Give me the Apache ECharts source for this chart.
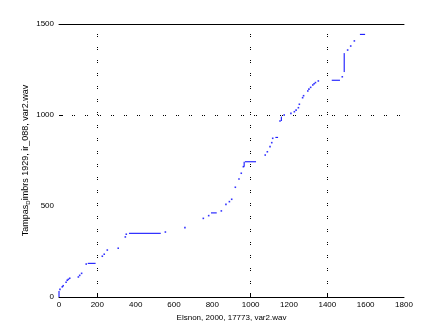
<!DOCTYPE html>
<html>
<head>
<meta charset="utf-8">
<script src="https://cdn.jsdelivr.net/npm/echarts@6/dist/echarts.min.js"></script>
<style>html,body{margin:0;padding:0;background:#fff}#c{width:447px;height:335px}</style>
</head>
<body>
<div id="c"></div>
<script>
// x tick labels
var xTicks = [0, 200, 400, 600, 800, 1000, 1200, 1400, 1600, 1800];
var yTicks = [0, 500, 1000, 1500];
// grid lines / marked ticks present in the reference
var xGrid = [200, 1000, 1400];
var yGrid = [1000];
var yMarkTicks = [1000, 1500];

// isolated dots
var dotsX = [5, 17, 22, 37, 43, 49, 56, 101, 108, 118, 142, 226, 236, 252, 309, 346, 351, 555, 657, 753, 781, 847, 871, 889, 901, 920, 939, 951, 962, 1076, 1087, 1101, 1110, 1115, 1153, 1175, 1210, 1228, 1237, 1249, 1254, 1271, 1276, 1298, 1304, 1313, 1324, 1331, 1338, 1353, 1478, 1506, 1522, 1541];
var dotsY = [42, 56, 62, 81, 92, 97, 103, 110, 119, 130, 181, 224, 235, 258, 268, 330, 345, 357, 381, 432, 447, 473, 509, 524, 537, 603, 648, 680, 716, 780, 798, 826, 848, 872, 967, 1000, 1009, 1018, 1027, 1040, 1059, 1095, 1106, 1132, 1142, 1152, 1165, 1172, 1178, 1187, 1210, 1357, 1379, 1407];

// continuous runs (flat steps and vertical jumps)
var segX1 = [0, 150, 365, 793, 966, 970, 1129, 1160, 1423, 1488, 1570];
var segY1 = [0, 185, 350, 462, 716, 743, 877, 967, 1191, 1236, 1443];
var segX2 = [0, 191, 531, 823, 966, 1028, 1143, 1160, 1466, 1488, 1597];
var segY2 = [33, 185, 350, 462, 743, 743, 877, 991, 1191, 1340, 1443];

var yTitle = 'Tampas';
var yTitleSub = 'D';
var yTitleRest = 'imbrs 1929, ir_088, var2.wav';
var xTitle = 'Elsnon, 2000, 17773, var2.wav';

var dots = dotsX.map(function (x, i) { return [x, dotsY[i]]; });
var segs = [];
segX1.forEach(function (x, i) {
  segs.push([x, segY1[i]]);
  segs.push([segX2[i], segY2[i]]);
  segs.push([null, null]);
});

var FONT = 'Liberation Sans';
var gridLineStyle = { color: '#000', width: 1, type: [1, 1, 1, 10] };
var plain = function (v) { return String(v); };

var chart = echarts.init(document.getElementById('c'), null, { renderer: 'canvas' });
chart.setOption({
  animation: false,
  backgroundColor: '#fff',
  grid: { left: 59, right: 43, top: 24, bottom: 38, containLabel: false },
  xAxis: [{
    type: 'value', min: 0, max: 1800, interval: 200,
    name: xTitle, nameLocation: 'middle', nameGap: 16,
    nameTextStyle: { fontFamily: FONT, fontSize: 8, color: '#000' },
    axisLine: { show: true, onZero: false, lineStyle: { color: '#000', width: 1 } },
    axisTick: { show: true, inside: true, length: 4, customValues: xGrid, lineStyle: { color: '#000' } },
    axisLabel: { fontFamily: FONT, fontSize: 8, color: '#000', margin: 4, customValues: xTicks, formatter: plain },
    splitLine: { show: false }
  }, {
    type: 'value', min: 0, max: 1800, position: 'top',
    axisLine: { show: true, onZero: false, lineStyle: { color: '#000', width: 1 } },
    axisTick: { show: false }, axisLabel: { show: false }, splitLine: { show: false }
  }],
  yAxis: {
    type: 'value', min: 0, max: 1500, interval: 500,
    name: '{a|' + yTitle + '}{s|' + yTitleSub + '}{a|' + yTitleRest + '}',
    nameLocation: 'middle', nameGap: 28, nameRotate: 90, nameMoveOverlap: false,
    nameTextStyle: {
      fontFamily: FONT, fontSize: 9, color: '#000',
      rich: {
        a: { fontFamily: FONT, fontSize: 9, color: '#000' },
        s: { fontFamily: FONT, fontSize: 6, color: '#000', verticalAlign: 'bottom', padding: [5, 0, 0, 0] }
      }
    },
    axisLine: { show: false },
    axisTick: { show: true, inside: true, length: 4, customValues: yMarkTicks, lineStyle: { color: '#000' } },
    axisLabel: { fontFamily: FONT, fontSize: 8, color: '#000', margin: 5, customValues: yTicks, formatter: plain },
    splitLine: { show: false }
  },
  series: [{
    type: 'line', data: [], silent: true,
    markLine: {
      silent: true, symbol: 'none', label: { show: false }, lineStyle: gridLineStyle,
      emphasis: { disabled: true },
      data: xGrid.map(function (v) { return { xAxis: v }; }).concat(yGrid.map(function (v) { return { yAxis: v }; }))
    }
  }, {
    type: 'line', data: segs, connectNulls: false, showSymbol: false, symbol: 'none',
    lineStyle: { color: '#0000ff', width: 1 }, silent: true
  }, {
    type: 'scatter', data: dots, symbol: 'rect', symbolSize: 1.6,
    itemStyle: { color: '#0000ff' }, silent: true
  }]
});
</script>
</body>
</html>
